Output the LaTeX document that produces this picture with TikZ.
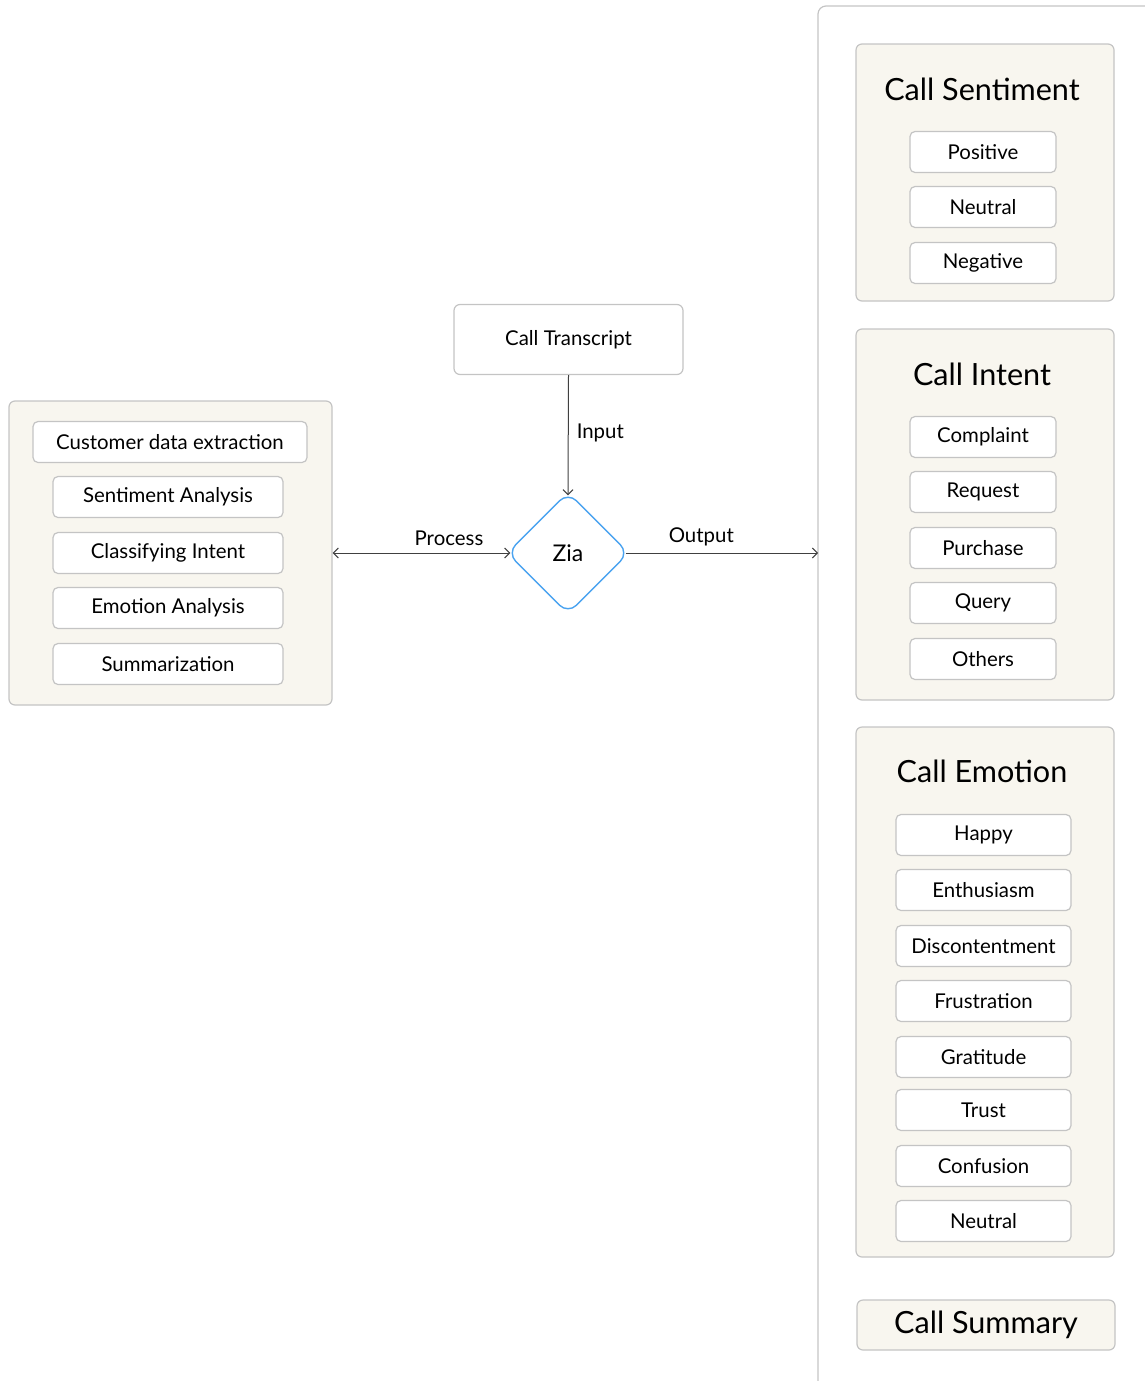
\documentclass[tikz,border=0pt]{standalone}
\usepackage{fontspec}
\setmainfont{Lato}
\usetikzlibrary{shapes.geometric, arrows.meta}
\definecolor{panelfill}{RGB}{248, 246, 239}
\definecolor{panelline}{RGB}{196, 196, 196}
\definecolor{zialine}{RGB}{74, 163, 240}
\definecolor{arrowline}{RGB}{64, 64, 64}
\tikzset{
    panel/.style={draw=panelline, fill=panelfill, rounded corners=3pt, line width=0.6pt, inner sep=0pt},
    itembox/.style={draw=panelline, fill=white, rounded corners=2.5pt, line width=0.6pt, inner sep=0pt,
        minimum height=20.5pt, font=\fontsize{10.2}{12}\selectfont},
    paneltitle/.style={inner sep=0pt, font=\fontsize{15.3}{18}\selectfont},
    flowlabel/.style={inner sep=0pt, font=\fontsize{10.2}{12}\selectfont},
    flow/.style={draw=arrowline, line width=0.5pt, arrows={-Straight Barb[length=2.5pt, width=5pt]}},
}

\begin{document}
\begin{tikzpicture}[x=0.5pt, y=-0.5pt]
    \useasboundingbox (0,0) rectangle (1145,1381);

    % right output frame
    \coordinate (frame) at (818,553);
    \draw[panelline, line width=0.6pt, rounded corners=4pt] (818,1381) -- (818,6) -- (1160,6);

    % centre
    \node (transcript) [draw=panelline, fill=white, rounded corners=3pt, line width=0.6pt,
        minimum width=114.5pt, minimum height=35pt, font=\fontsize{10.2}{12}\selectfont] at (568.5,339.5) {Call Transcript};
    \node (zia) [diamond, aspect=1, draw=zialine, fill=white, line width=0.7pt, rounded corners=6pt,
        minimum width=61pt, minimum height=61pt, inner sep=0pt, font=\fontsize{11.5}{13}\selectfont] at (568,553) {Zia};

    % process panel
    \node (process) [panel, minimum width=161.5pt, minimum height=152pt] at (170.5,553) {};
    \node (extract) [itembox, minimum width=137pt] at (170,442) {Customer data extraction};
    \foreach \name/\txt/\ypos in {sentan/Sentiment Analysis/497, intentan/Classifying Intent/553,
        emoan/Emotion Analysis/608, summ/Summarization/664}
        \node (\name) [itembox, minimum width=115pt] at (168,\ypos) {\txt};

    % call sentiment
    \node (sentpanel) [panel, minimum width=129pt, minimum height=128.5pt] at (985,172.5) {};
    \node (senttitle) [paneltitle] at (982,89) {Call Sentiment};
    \foreach \name/\txt/\ypos in {pos/Positive/152, neu/Neutral/207, neg/Negative/263}
        \node (\name) [itembox, minimum width=73pt] at (983,\ypos) {\txt};

    % call intent
    \node (intentpanel) [panel, minimum width=129pt, minimum height=185.5pt] at (985,514.5) {};
    \node (intenttitle) [paneltitle] at (982,374) {Call Intent};
    \foreach \name/\txt/\ypos in {compl/Complaint/437, req/Request/492, purch/Purchase/548,
        query/Query/603, others/Others/659}
        \node (\name) [itembox, minimum width=73pt] at (983,\ypos) {\txt};

    % call emotion
    \node (emopanel) [panel, minimum width=129pt, minimum height=265pt] at (985,992) {};
    \node (emotitle) [paneltitle] at (982,771) {Call Emotion};
    \foreach \name/\txt/\ypos in {happy/Happy/835, enth/Enthusiasm/890, disc/Discontentment/946,
        frus/Frustration/1001, grat/Gratitude/1057, trust/Trust/1110, conf/Confusion/1166, neutral/Neutral/1221}
        \node (\name) [itembox, minimum width=87.5pt] at (983.5,\ypos) {\txt};

    % call summary
    \node (summary) [panel, minimum width=129pt, minimum height=25pt, font=\fontsize{15.3}{18}\selectfont] at (986,1325) {Call Summary};

    % connectors (rounded diamond corners sit inside the anchors)
    \draw[flow, shorten >=-2pt] (transcript.south) -- (zia.north) node [pos=0.5, right=4pt, flowlabel] {Input};
    \draw[flow, shorten >=-2pt, arrows={Straight Barb[length=2.5pt, width=5pt]-Straight Barb[length=2.5pt, width=5pt]}]
        (process.east) -- (zia.west) node [pos=0.67, above=3.5pt, flowlabel] {Process};
    \draw[flow, shorten <=-2pt] (zia.east) -- (zia.east -| frame) node [pos=0.38, above=3.5pt, flowlabel] {Output};
\end{tikzpicture}
\end{document}
